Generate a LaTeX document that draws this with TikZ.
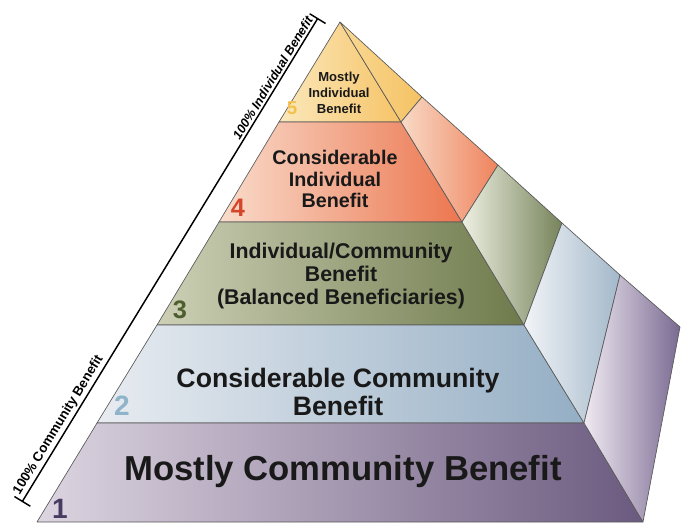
\documentclass[tikz,border=0pt]{standalone}
\usepackage{fontspec}
\setmainfont{Liberation Sans}
\usetikzlibrary{arrows.meta}
\definecolor{fiveL}{HTML}{FBE8BC}
\definecolor{fiveR}{HTML}{F6C467}
\definecolor{fourL}{HTML}{F9DCCB}
\definecolor{fourR}{HTML}{EC764F}
\definecolor{threeL}{HTML}{CDD0B6}
\definecolor{threeR}{HTML}{6E7A4B}
\definecolor{twoL}{HTML}{E8ECF1}
\definecolor{twoR}{HTML}{94AEC4}
\definecolor{oneL}{HTML}{DDD5E1}
\definecolor{oneR}{HTML}{6B5A7F}
\definecolor{sfiveL}{HTML}{F9D995}
\definecolor{sfiveR}{HTML}{F5C263}
\definecolor{sfourL}{HTML}{F8DAC6}
\definecolor{sfourR}{HTML}{EF835D}
\definecolor{sthreeL}{HTML}{EEF0E2}
\definecolor{sthreeR}{HTML}{76835A}
\definecolor{stwoL}{HTML}{F1F4F7}
\definecolor{stwoR}{HTML}{A3B8CA}
\definecolor{soneL}{HTML}{F0EAF2}
\definecolor{soneR}{HTML}{7A6A92}
\definecolor{numfive}{HTML}{F2C14E}
\definecolor{numfour}{HTML}{D4462A}
\definecolor{numthree}{HTML}{4F5E2F}
\definecolor{numtwo}{HTML}{8FB3C8}
\definecolor{numone}{HTML}{463C62}
\begin{document}
\begin{tikzpicture}[x=0.75pt,y=-0.75pt,
  face/.style={draw=black!65,line width=0.5pt,line join=round},
  lvltext/.style={align=center,inner sep=0pt,text=black!90},
  lvlnum/.style={inner sep=0pt},
  dimlabel/.style={inner sep=1.5pt}]
\useasboundingbox (0,0) rectangle (693,529);
% front edge points
\coordinate (top) at (340,22);
\coordinate (l1) at (279,122);
\coordinate (l2) at (219,222);
\coordinate (l3) at (157,325);
\coordinate (l4) at (97,423);
\coordinate (l5) at (37,522);
\coordinate (r1) at (401,122);
\coordinate (r2) at (462,222);
\coordinate (r3) at (524,325);
\coordinate (r4) at (584,423);
\coordinate (r5) at (643,522);
% side face outer points
\coordinate (o1) at (422,97);
\coordinate (o2) at (498,165);
\coordinate (o3) at (562,223);
\coordinate (o4) at (620,275);
\coordinate (o5) at (680,327);
% front levels
\foreach \a/\b/\c/\d/\lc/\rc in {l1/top/top/r1/fiveL/fiveR,l2/l1/r1/r2/fourL/fourR,l3/l2/r2/r3/threeL/threeR,l4/l3/r3/r4/twoL/twoR,l5/l4/r4/r5/oneL/oneR}
  \path[face,left color=\lc,right color=\rc] (\a)--(\b)--(\c)--(\d)--cycle;
% side faces
\foreach \a/\b/\c/\d/\lc/\rc in {r1/top/top/o1/sfiveL/sfiveR,r2/r1/o1/o2/sfourL/sfourR,r3/r2/o2/o3/sthreeL/sthreeR,r4/r3/o3/o4/stwoL/stwoR,r5/r4/o4/o5/soneL/soneR}
  \path[face,left color=\lc,right color=\rc] (\a)--(\b)--(\c)--(\d)--cycle;
% level texts
\node[lvltext,font=\bfseries\fontsize{9.8}{12}\selectfont] (txt5) at (339,93) {Mostly\\Individual\\Benefit};
\node[lvltext,font=\bfseries\fontsize{14.8}{15.8}\selectfont] (txt4) at (335,179) {Considerable\\Individual\\Benefit};
\node[lvltext,font=\bfseries\fontsize{16}{17}\selectfont] (txt3) at (341,276) {Individual/Community\\Benefit\\(Balanced Beneficiaries)};
\node[lvltext,font=\bfseries\fontsize{20}{20.5}\selectfont] (txt2) at (338,392) {Considerable Community\\Benefit};
\node[lvltext,font=\bfseries\fontsize{26}{28}\selectfont] (txt1) at (343,472) {Mostly Community Benefit};
% level numbers
\node[lvlnum,text=numfive,font=\bfseries\fontsize{14}{14}\selectfont] (num5) at (292,108) {5};
\node[lvlnum,text=numfour,font=\bfseries\fontsize{19}{19}\selectfont] (num4) at (238,208) {4};
\node[lvlnum,text=numthree,font=\bfseries\fontsize{19}{19}\selectfont] (num3) at (180,310) {3};
\node[lvlnum,text=numtwo,font=\bfseries\fontsize{21}{21}\selectfont] (num2) at (122,406) {2};
\node[lvlnum,text=numone,font=\bfseries\fontsize{21}{21}\selectfont] (num1) at (60,509) {1};
% benefit scale
\coordinate (dimtop) at (318,18);
\coordinate (dimbot) at (22,502);
\draw[line width=1.1pt,{Bar[width=14pt]}-{Bar[width=14pt]}] (dimbot) -- (dimtop)
  node[dimlabel,font=\bfseries\fontsize{10}{11}\selectfont,pos=0.149,sloped,above] (lblcom) {100\% Community Benefit}
  node[dimlabel,font=\bfseries\itshape\fontsize{9.5}{10}\selectfont,pos=0.868,sloped,above] (lblind) {100\% Individual Benefit};
\end{tikzpicture}
\end{document}
